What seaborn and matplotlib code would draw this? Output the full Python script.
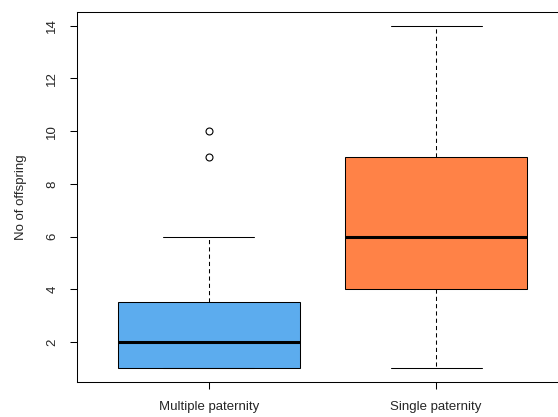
import pandas as pd
import matplotlib
matplotlib.use("Agg")
import matplotlib.pyplot as plt
import seaborn as sns

# data
groups = ["Multiple paternity", "Single paternity"]
multiple_offspring = [1, 1, 1, 1, 1, 1, 2, 2, 2, 2, 2, 2, 3, 3, 4, 5, 6, 9, 10]
single_offspring = [1, 2, 3, 4, 5, 5, 6, 7, 8, 9, 11, 12, 14]
box_colors = ["#5CACEE", "#FF8247"]
y_ticks = [2, 4, 6, 8, 10, 12, 14]

df = pd.DataFrame({
    "group": [groups[0]] * len(multiple_offspring) + [groups[1]] * len(single_offspring),
    "offspring": multiple_offspring + single_offspring,
})

sns.set_style("white")
plt.rcParams["font.family"] = ["Liberation Sans", "DejaVu Sans"]

fig = plt.figure(figsize=(5.58, 4.17), dpi=100)
ax = fig.add_axes([77 / 558, 35 / 417, 491 / 558, 370 / 417])

sns.boxplot(
    data=df, x="group", y="offspring", hue="group", palette=box_colors,
    order=groups, hue_order=groups, width=0.8, saturation=1, legend=False,
    linecolor="black", linewidth=0.75, ax=ax,
    whiskerprops=dict(linestyle=(0, (4, 3))),
    medianprops=dict(linewidth=2.2, color="black"),
    flierprops=dict(marker="o", markerfacecolor="none", markeredgecolor="black",
                    markersize=5, markeredgewidth=0.8),
)

ax.set_xlim(-0.58, 1.58)
ax.set_ylim(0.48, 14.52)
ax.set_yticks(y_ticks)
ax.set_yticklabels([str(t) for t in y_ticks], rotation=90, va="center")
ax.set_xlabel("")
ax.set_ylabel("No of offspring", fontsize=9.5, labelpad=14)
ax.tick_params(axis="both", which="both", direction="out", length=5, width=0.75,
               labelsize=9.5, color="black", left=True, bottom=True)
ax.tick_params(axis="y", pad=8.5)
ax.tick_params(axis="x", pad=8.5)
for side in ax.spines.values():
    side.set_visible(True)
    side.set_color("black")
    side.set_linewidth(0.75)

fig.savefig("out.png", dpi=100)
